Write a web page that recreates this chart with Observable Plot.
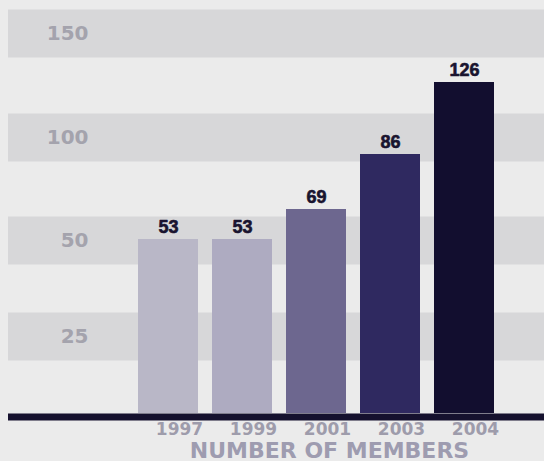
<!DOCTYPE html>
<html>
<head>
<meta charset="utf-8">
<script src="https://cdn.jsdelivr.net/npm/d3@7"></script>
<script src="https://cdn.jsdelivr.net/npm/@observablehq/plot@0.6"></script>
<style>
  html, body { margin: 0; padding: 0; background: #ebebeb; }
  #chart svg { display: block; }
</style>
</head>
<body>
<div id="chart"></div>
<script>
// Data
const years = ["1997", "1999", "2001", "2003", "2004"];
const members = [53, 53, 69, 86, 126];
const barColors = ["#b9b7c7", "#aeabc1", "#6d678f", "#2f2960", "#120e2f"];
const yTicks = [25, 50, 100, 150];
const title = "NUMBER OF MEMBERS";

const data = years.map((y, i) => ({year: y, value: members[i], color: barColors[i]}));

// The printed chart's vertical axis is not uniform; reproduce it with a piecewise transform
const yKnots = [0, 25, 50, 53, 69, 86, 100, 126, 150];
const yHeights = [0, 77, 173, 174, 204, 259, 276, 331, 380];
const piecewise = d3.scaleLinear(yKnots, yHeights);

const chart = Plot.plot({
  width: 544,
  height: 461,
  marginLeft: 8,
  marginRight: 0,
  marginTop: 0,
  marginBottom: 48,
  style: {background: "#ebebeb", overflow: "visible"},
  x: {domain: years, range: [138, 494], paddingInner: 0.19, paddingOuter: 0, axis: null},
  y: {transform: v => piecewise(v), domain: [0, 413], range: [413, 0], axis: null},
  color: {type: "identity"},
  marks: [
    Plot.ruleY(yTicks, {stroke: "#d7d7d9", strokeWidth: 48}),
    Plot.text(yTicks, {
      y: d => d, frameAnchor: "left", dx: 80, textAnchor: "end", lineAnchor: "middle",
      text: d => String(d), fill: "#a4a3ad", fontFamily: "DejaVu Sans", fontWeight: "bold", fontSize: 20
    }),
    Plot.barY(data, {x: "year", y: "value", fill: "color"}),
    Plot.text(data, {
      x: "year", y: "value", text: d => String(d.value), dy: -7, lineAnchor: "bottom",
      fill: "#19142f", fontFamily: "Liberation Sans", fontWeight: "bold", fontSize: 18,
      stroke: "#19142f", strokeWidth: 0.6
    }),
    Plot.ruleY([0], {stroke: "#15112e", strokeWidth: 7, dy: 3.5}),
    Plot.text(data, {
      x: "year", y: () => 0, text: "year", dx: 11, dy: 16, lineAnchor: "middle",
      fill: "#9e9cab", fontFamily: "DejaVu Sans", fontWeight: "bold", fontSize: 17
    }),
    Plot.text([title], {
      frameAnchor: "bottom", dx: 53, dy: 44, lineAnchor: "bottom",
      fill: "#9e9cb0", fontFamily: "DejaVu Sans", fontWeight: "bold", fontSize: 22
    })
  ]
});
document.getElementById("chart").appendChild(chart);
</script>
</body>
</html>
